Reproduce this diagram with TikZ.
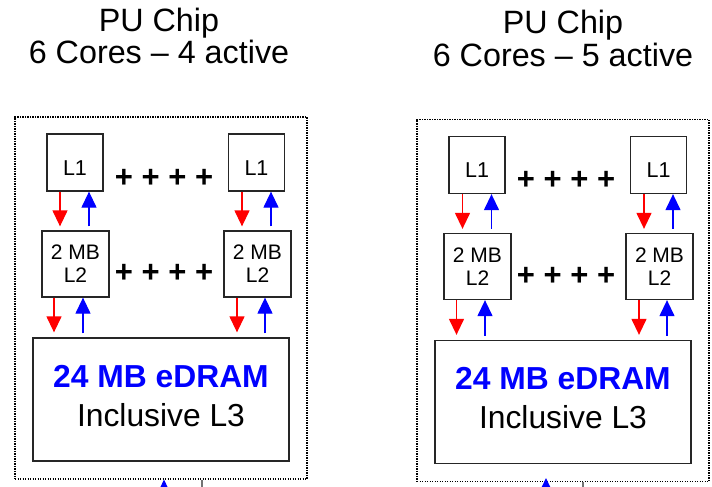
\documentclass[tikz,border=0pt]{standalone}
\usepackage{fontspec}
\setmainfont{Liberation Sans}
\usetikzlibrary{arrows.meta,positioning,calc}
\tikzset{
  cache/.style={draw=black!85, line width=1.3pt, align=center, inner sep=0pt},
  l1box/.style={cache, minimum width=56pt, minimum height=57pt, text height=25pt, font=\fontsize{21.5}{23}\selectfont},
  l2box/.style={cache, minimum width=67pt, minimum height=66pt, font=\fontsize{21}{23}\selectfont},
  l3box/.style={cache, minimum width=256pt, minimum height=123pt, text depth=8pt, font=\fontsize{31.8}{39}\selectfont},
  chip/.style={draw=black, line width=1.1pt, dash pattern=on 1.1pt off 1.4pt, minimum width=292pt, minimum height=362pt, inner sep=0pt},
  title/.style={align=center, font=\fontsize{32.3}{32.5}\selectfont},
  plusrow/.style={anchor=base, inner sep=0pt, font=\fontsize{31}{31}\selectfont\bfseries},
  downarrow/.style={draw=red, line width=1.3pt, -{Triangle[length=16pt,width=15pt]}},
  uparrow/.style={draw=blue, line width=1.3pt, -{Triangle[length=16pt,width=15pt]}},
  linkline/.style={draw=black!55, line width=1.3pt}
}
\begin{document}
\begin{tikzpicture}[x=1pt, y=-1pt]
\useasboundingbox (0,0) rectangle (712,487);
\clip (0,0) rectangle (712,487);
% left chip
\begin{scope}
\node[title] (titlea) at (159,36) {PU Chip\\6 Cores – 4 active};
\node[chip] (chipa) at (161,298) {};
\node[l1box] (l1aa) at (75,162.5) {L1};
\node[l1box] (l1ab) at (256.5,162.5) {L1};
\node[l2box] (l2aa) at (75.5,264) {2 MB\\L2};
\node[l2box] (l2ab) at (257.5,264) {2 MB\\L2};
\node[l3box] (l3a) at (161,399.5) {\textcolor{blue}{\bfseries 24 MB eDRAM}\\Inclusive L3};
\node[plusrow] (plusa1) at (164,187) {+ + + +};
\node[plusrow] (plusa2) at (164,282.5) {+ + + +};
% L1 <-> L2
\draw[downarrow, shorten >=4pt] ([xshift=-15pt]l1aa.south) -- ([xshift=-15pt]l1aa.south |- l2aa.north);
\draw[uparrow, shorten <=4pt] ([xshift=14pt]l1aa.south |- l2aa.north) -- ([xshift=14pt]l1aa.south);
\draw[downarrow, shorten >=4pt] ([xshift=-14.5pt]l1ab.south) -- ([xshift=-14.5pt]l1ab.south |- l2ab.north);
\draw[uparrow, shorten <=4pt] ([xshift=14.5pt]l1ab.south |- l2ab.north) -- ([xshift=14.5pt]l1ab.south);
% L2 <-> L3
\draw[downarrow, shorten >=5pt] ([xshift=-21.5pt]l2aa.south) -- ([xshift=-21.5pt]l2aa.south |- l3a.north);
\draw[uparrow, shorten <=4pt] ([xshift=7.5pt]l2aa.south |- l3a.north) -- ([xshift=7.5pt]l2aa.south);
\draw[downarrow, shorten >=5pt] ([xshift=-20.5pt]l2ab.south) -- ([xshift=-20.5pt]l2ab.south |- l3a.north);
\draw[uparrow, shorten <=4pt] ([xshift=7.5pt]l2ab.south |- l3a.north) -- ([xshift=7.5pt]l2ab.south);
% off-chip links
\coordinate (busa) at (164,510);
\coordinate (linka) at (202,510);
\draw[uparrow] (busa) -- (busa |- chipa.south);
\draw[linkline] (linka) -- (linka |- chipa.south);
\end{scope}
% right chip
\begin{scope}[shift={(402,2.5)}]
\node[title] (titleb) at (161,36) {PU Chip\\6 Cores – 5 active};
\node[chip] (chipb) at (161,298) {};
\node[l1box] (l1ba) at (75,162.5) {L1};
\node[l1box] (l1bb) at (256.5,162.5) {L1};
\node[l2box] (l2ba) at (75.5,264) {2 MB\\L2};
\node[l2box] (l2bb) at (257.5,264) {2 MB\\L2};
\node[l3box] (l3b) at (161,399.5) {\textcolor{blue}{\bfseries 24 MB eDRAM}\\Inclusive L3};
\node[plusrow] (plusb1) at (164,187) {+ + + +};
\node[plusrow] (plusb2) at (164,282.5) {+ + + +};
% L1 <-> L2
\draw[downarrow, shorten >=4pt] ([xshift=-14.5pt]l1ba.south) -- ([xshift=-14.5pt]l1ba.south |- l2ba.north);
\draw[uparrow, shorten <=4pt] ([xshift=14.5pt]l1ba.south |- l2ba.north) -- ([xshift=14.5pt]l1ba.south);
\draw[downarrow, shorten >=4pt] ([xshift=-14.5pt]l1bb.south) -- ([xshift=-14.5pt]l1bb.south |- l2bb.north);
\draw[uparrow, shorten <=4pt] ([xshift=14.5pt]l1bb.south |- l2bb.north) -- ([xshift=14.5pt]l1bb.south);
% L2 <-> L3
\draw[downarrow, shorten >=5pt] ([xshift=-21pt]l2ba.south) -- ([xshift=-21pt]l2ba.south |- l3b.north);
\draw[uparrow, shorten <=4pt] ([xshift=7.5pt]l2ba.south |- l3b.north) -- ([xshift=7.5pt]l2ba.south);
\draw[downarrow, shorten >=5pt] ([xshift=-20.5pt]l2bb.south) -- ([xshift=-20.5pt]l2bb.south |- l3b.north);
\draw[uparrow, shorten <=4pt] ([xshift=7.5pt]l2bb.south |- l3b.north) -- ([xshift=7.5pt]l2bb.south);
% off-chip links
\coordinate (busb) at (144,510);
\coordinate (linkb) at (181,510);
\draw[uparrow, shorten >=-4pt] (busb) -- (busb |- chipb.south);
\draw[linkline] (linkb) -- (linkb |- chipb.south);
\end{scope}
\end{tikzpicture}
\end{document}
